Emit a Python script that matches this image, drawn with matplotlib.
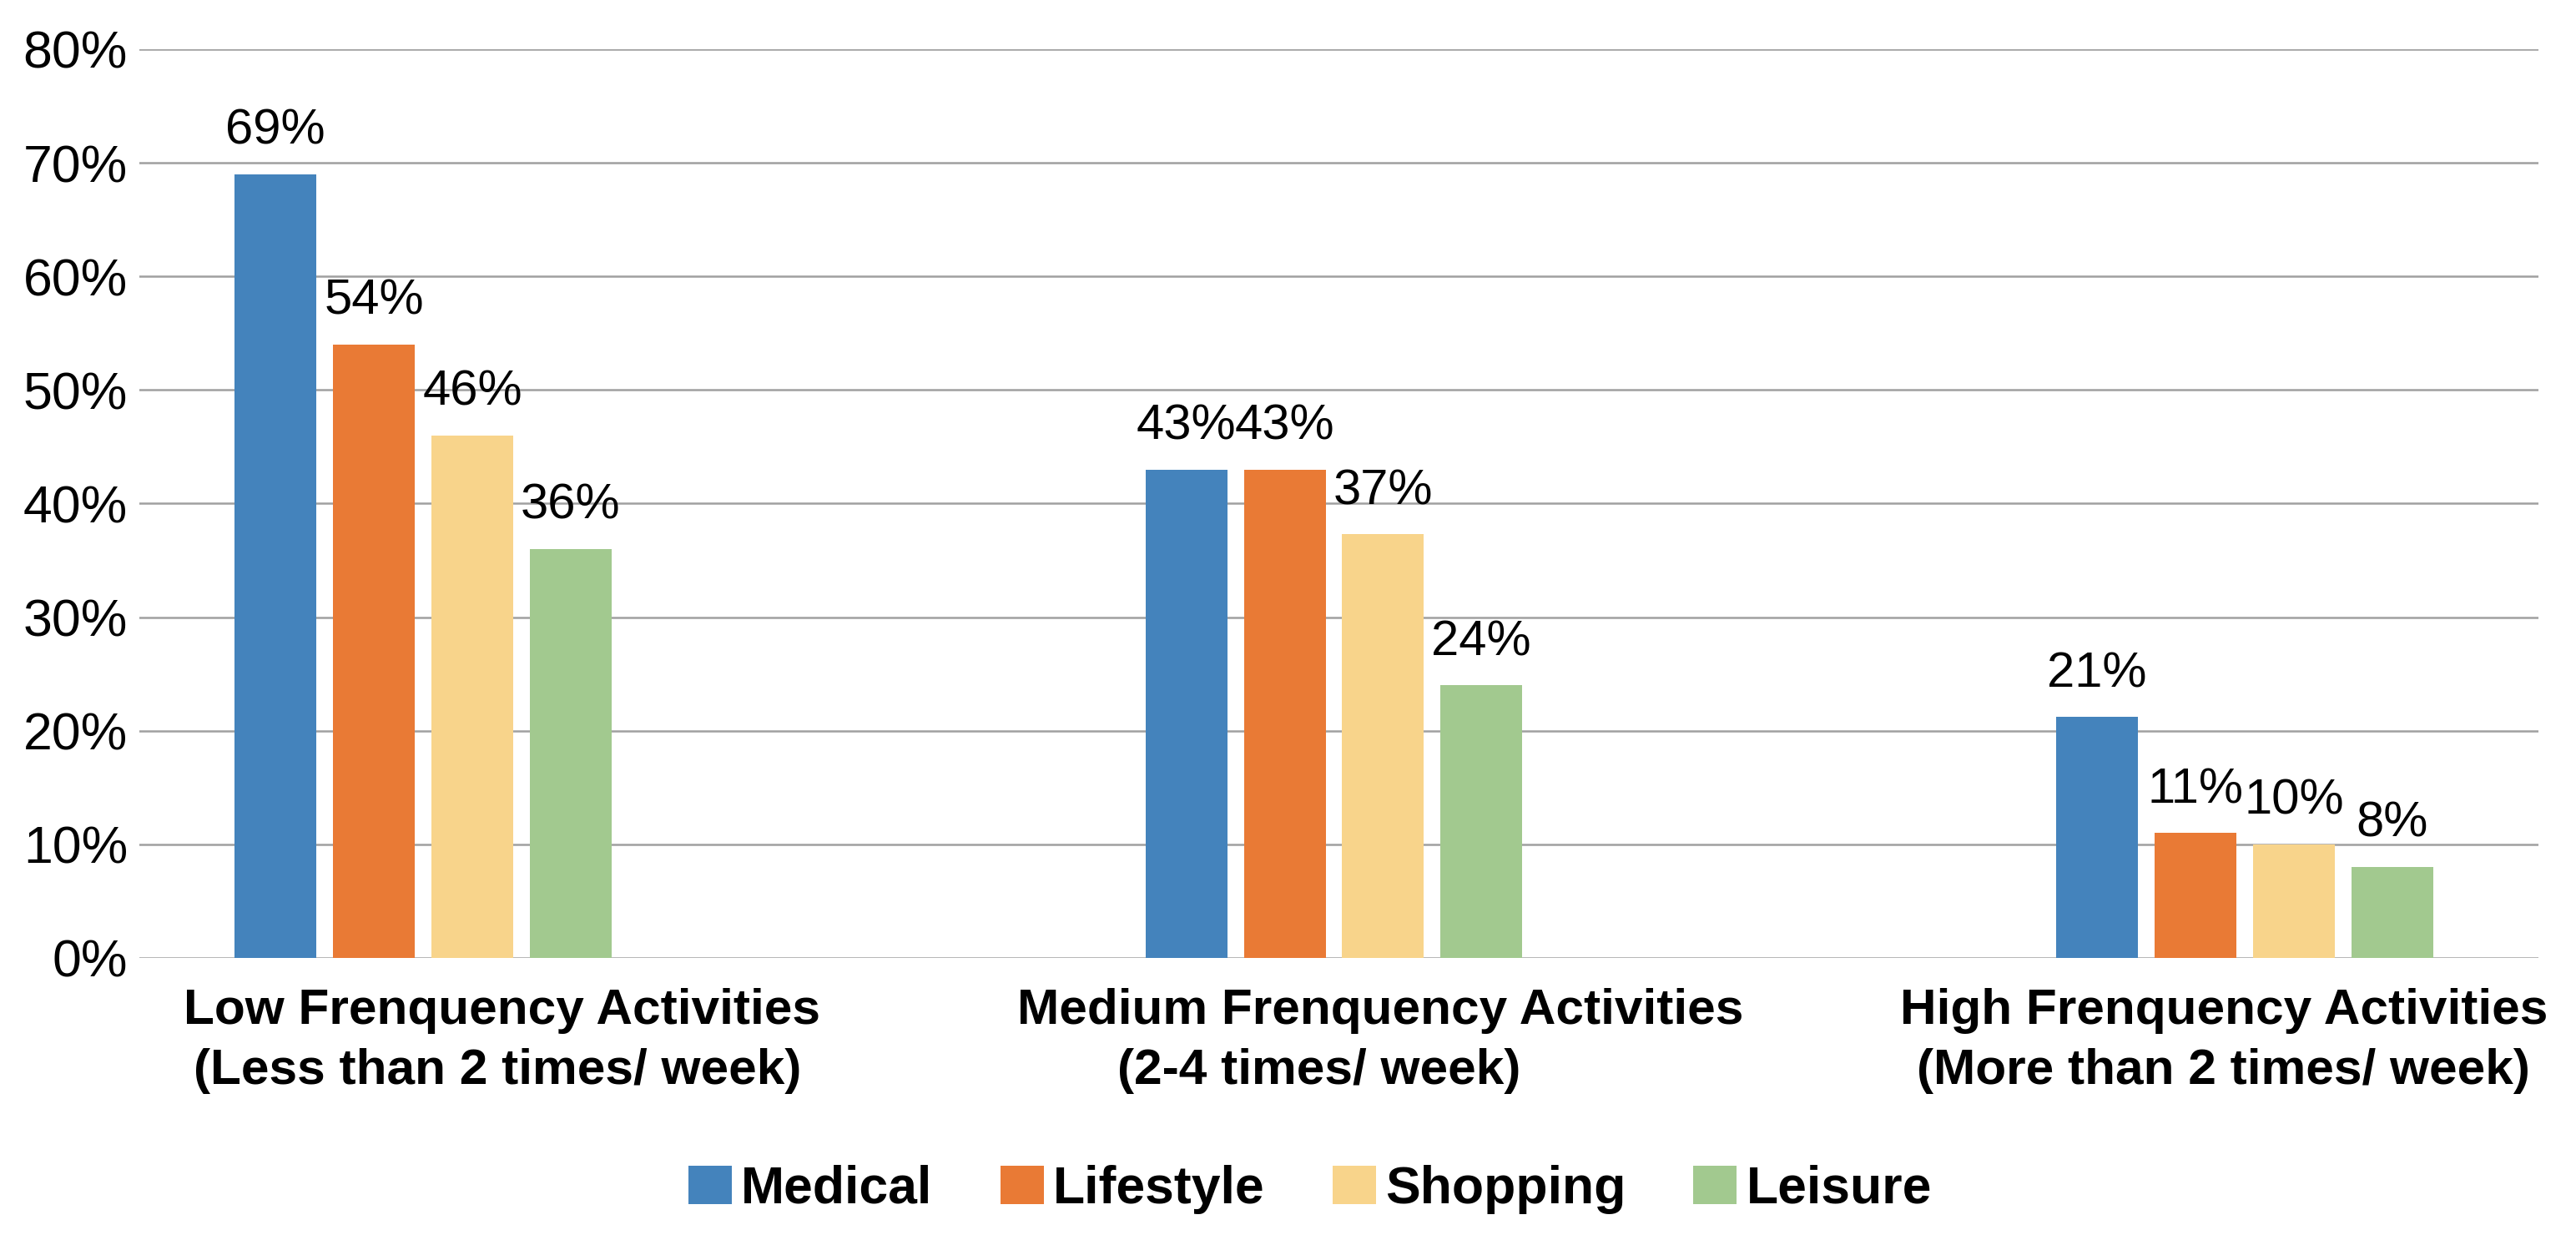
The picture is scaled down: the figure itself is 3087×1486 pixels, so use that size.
#!/usr/bin/env python
"""
Grouped bar chart: share of users by activity frequency and app type.
"""

import numpy as np
import matplotlib
matplotlib.use("Agg")
import matplotlib.pyplot as plt
from matplotlib.patches import Patch

categories = [
    "Low Frenquency Activities\n(Less than 2 times/ week)",
    "Medium Frenquency Activities\n(2-4 times/ week)",
    "High Frenquency Activities\n(More than 2 times/ week)",
]
series = ["Medical", "Lifestyle", "Shopping", "Leisure"]
medical = [69, 43, 21.2]
lifestyle = [54, 43, 11]
shopping = [46, 37.3, 10]
leisure = [36, 24, 8]
yticks = [0, 10, 20, 30, 40, 50, 60, 70, 80]

colors = ["#4483bc", "#e97a35", "#f8d48b", "#a2c98f"]
grid_color = "#a0a0a0"
fam = ["Liberation Sans", "DejaVu Sans"]

# per-line x offsets of the category labels (data units from group centre)
label_dx = [(0.087, 0.082), (0.051, -0.016), (-0.023, -0.023)]


def plot_chart():
    fig = plt.figure(figsize=(30.87, 14.86), dpi=100)
    ax = fig.add_axes([0.0541, 0.2275, 0.9313, 0.7328])

    x = np.arange(len(categories))
    step = 0.108
    width = 0.0898
    for i, (name, vals) in enumerate(zip(series, [medical, lifestyle, shopping, leisure])):
        xs = x + (i - 1.5) * step
        ax.bar(xs, vals, width, color=colors[i], zorder=3)
        for xi, v in zip(xs, vals):
            ax.annotate(f"{v:.0f}%", (xi, v), xytext=(0, 26), textcoords="offset points",
                        ha="center", va="baseline", fontsize=43, family=fam, zorder=4)

    ax.set_xlim(-0.3115, 2.3225)
    ax.set_ylim(0, 80)
    ax.set_yticks(yticks)
    ax.set_yticklabels([f"{t}%" for t in yticks], fontsize=45, family=fam)
    ax.tick_params(axis="y", length=0, pad=10)
    ax.set_xticks([])
    for s in ax.spines.values():
        s.set_visible(False)
    ax.yaxis.grid(True, color=grid_color, linewidth=1.8, zorder=0)
    ax.set_axisbelow(True)

    # category labels, one line at a time
    trans = matplotlib.transforms.blended_transform_factory(ax.transData, fig.transFigure)
    line_y = [1 - 1227 / 1486, 1 - 1299 / 1486]
    for xi, lab, dxs in zip(x, categories, label_dx):
        for line, dx, yy in zip(lab.split("\n"), dxs, line_y):
            ax.text(xi + dx, yy, line, transform=trans, ha="center", va="baseline",
                    fontsize=43.5, fontweight="bold", family=fam)

    handles = [Patch(facecolor=c, edgecolor="none") for c in colors]
    fig.legend(handles, series, loc="center", bbox_to_anchor=(0.5086, 0.041), ncol=4,
               frameon=False, prop={"family": fam, "size": 45, "weight": "bold"},
               handlelength=0.83, handleheight=0.77, handletextpad=0.18,
               columnspacing=1.3, borderpad=0)

    fig.savefig("out.png", dpi=100, facecolor="white")


if __name__ == "__main__":
    plot_chart()
